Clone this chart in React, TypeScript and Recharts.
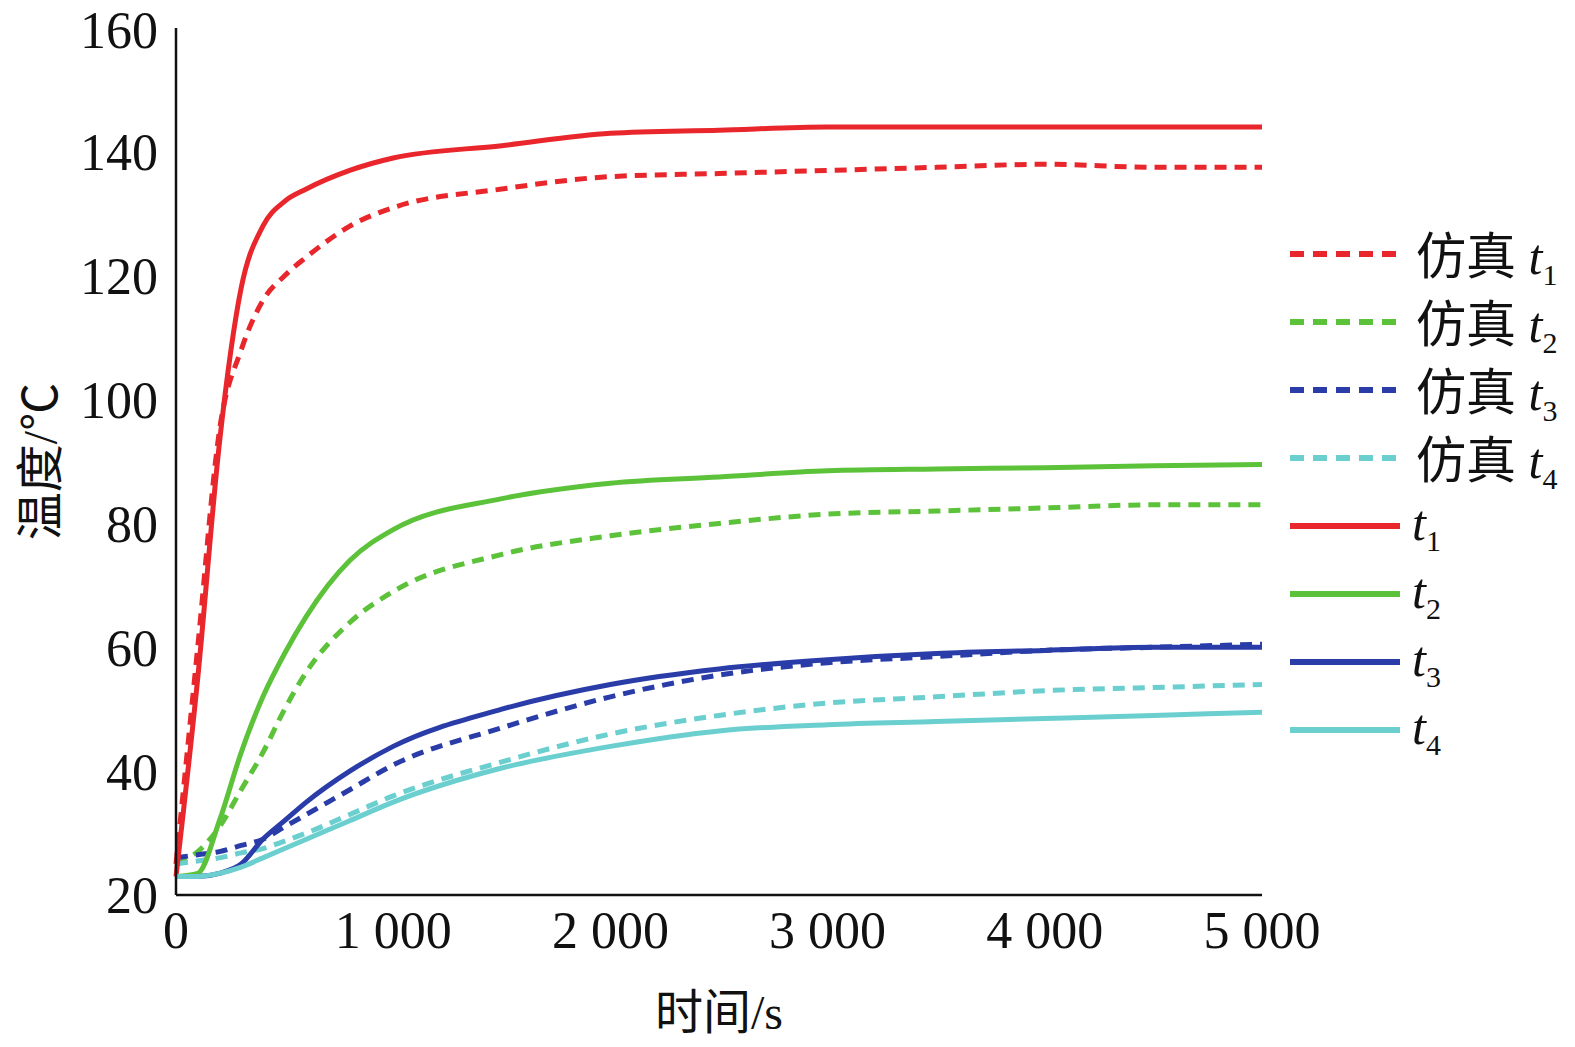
import React from "react";
import { LineChart, Line, XAxis, YAxis, Label } from "recharts";

const times = [0, 100, 200, 300, 400, 500, 600, 800, 1000, 1500, 2000, 2500, 3000, 3500, 4000, 4500, 5000];
const t1 = [23, 55, 93, 118, 128, 132, 134, 137, 139, 141, 143, 143.5, 144, 144, 144, 144, 144];
const sim1 = [25, 60, 95, 108, 116, 120, 123, 128, 131, 134, 136, 136.5, 137, 137.5, 138, 137.5, 137.5];
const t2 = [23, 23.5, 32, 43, 52, 59, 65, 74, 79, 84, 86.5, 87.5, 88.5, 88.8, 89, 89.3, 89.5];
const sim2 = [25, 27, 31, 37, 43, 50, 56, 64, 69, 75, 78, 80, 81.5, 82, 82.5, 83, 83];
const t3 = [23, 23, 23.5, 25, 29, 32, 35, 40, 44, 50, 54, 56.5, 58, 59, 59.5, 60, 60];
const sim3 = [26, 26.5, 27, 28, 29, 31, 33, 37, 41, 47, 52, 55.5, 57.5, 58.5, 59.5, 60, 60.5];
const t4 = [23, 23, 23.5, 24.5, 26, 27.5, 29, 32, 35, 40.5, 44, 46.5, 47.5, 48, 48.5, 49, 49.5];
const sim4 = [25, 25.5, 26, 26.8, 27.5, 28.7, 30, 33, 36, 41.5, 46, 49, 51, 52, 53, 53.5, 54];
const xTicks = [0, 1000, 2000, 3000, 4000, 5000];
const yTicks = [20, 40, 60, 80, 100, 120, 140, 160];

const RED = "#e8262b";
const GREEN = "#5cc23a";
const BLUE = "#2a3ca8";
const CYAN = "#6ccfcf";

const data = times.map((t, i) => ({
  t, t1: t1[i], sim1: sim1[i], t2: t2[i], sim2: sim2[i],
  t3: t3[i], sim3: sim3[i], t4: t4[i], sim4: sim4[i],
}));

const series = [
  { key: "sim1", color: RED, dash: true, n: "1" },
  { key: "sim2", color: GREEN, dash: true, n: "2" },
  { key: "sim3", color: BLUE, dash: true, n: "3" },
  { key: "sim4", color: CYAN, dash: true, n: "4" },
  { key: "t1", color: RED, dash: false, n: "1" },
  { key: "t2", color: GREEN, dash: false, n: "2" },
  { key: "t3", color: BLUE, dash: false, n: "3" },
  { key: "t4", color: CYAN, dash: false, n: "4" },
];

const serif = "'Liberation Serif', 'Noto Sans CJK SC', serif";
const fmt = (v: number) => (v >= 1000 ? `${Math.floor(v / 1000)} 000` : String(v));

export default function App() {
  return (
    <div style={{ position: "absolute", left: 0, top: 0, width: 1575, height: 1047, background: "#fff", fontFamily: serif }}>
      <LineChart width={1575} height={1047} data={data} margin={{ top: 28, right: 313, bottom: 0, left: 0 }}>
        <XAxis dataKey="t" type="number" domain={[0, 5000]} ticks={xTicks} tickFormatter={fmt}
          tickLine={false} axisLine={{ stroke: "#111", strokeWidth: 2.5 }} height={152}
          tick={{ fontSize: 52, fill: "#111", fontFamily: serif }} tickMargin={10}>
          <Label value="时间/s" position="insideBottom" offset={18} style={{ fontSize: 48, fill: "#111", fontFamily: serif }} />
        </XAxis>
        <YAxis type="number" domain={[20, 160]} ticks={yTicks} width={176} tickLine={false}
          axisLine={{ stroke: "#111", strokeWidth: 2.5 }}
          tick={{ fontSize: 52, fill: "#111", fontFamily: serif }} tickMargin={12}>
          <Label value="温度/℃" angle={-90} position="insideLeft" offset={40} style={{ fontSize: 48, fill: "#111", fontFamily: serif, textAnchor: "middle" }} />
        </YAxis>
        {series.map((s) => (
          <Line key={s.key} dataKey={s.key} type="monotone" stroke={s.color} strokeWidth={5}
            strokeDasharray={s.dash ? "12 8" : undefined} dot={false} isAnimationActive={false} />
        ))}
      </LineChart>
      <div style={{ position: "absolute", left: 1290, top: 220 }}>
        {series.map((s) => (
          <div key={s.key} style={{ display: "flex", alignItems: "center", height: 68 }}>
            <svg width={110} height={10}>
              <line x1={0} y1={5} x2={110} y2={5} stroke={s.color} strokeWidth={6}
                strokeDasharray={s.dash ? "14 9" : undefined} />
            </svg>
            <span style={{ fontSize: 50, color: "#111", marginLeft: s.dash ? 16 : 12, whiteSpace: "nowrap" }}>
              {s.dash ? "仿真 " : ""}<i>t</i><sub style={{ fontSize: 30 }}>{s.n}</sub>
            </span>
          </div>
        ))}
      </div>
    </div>
  );
}
